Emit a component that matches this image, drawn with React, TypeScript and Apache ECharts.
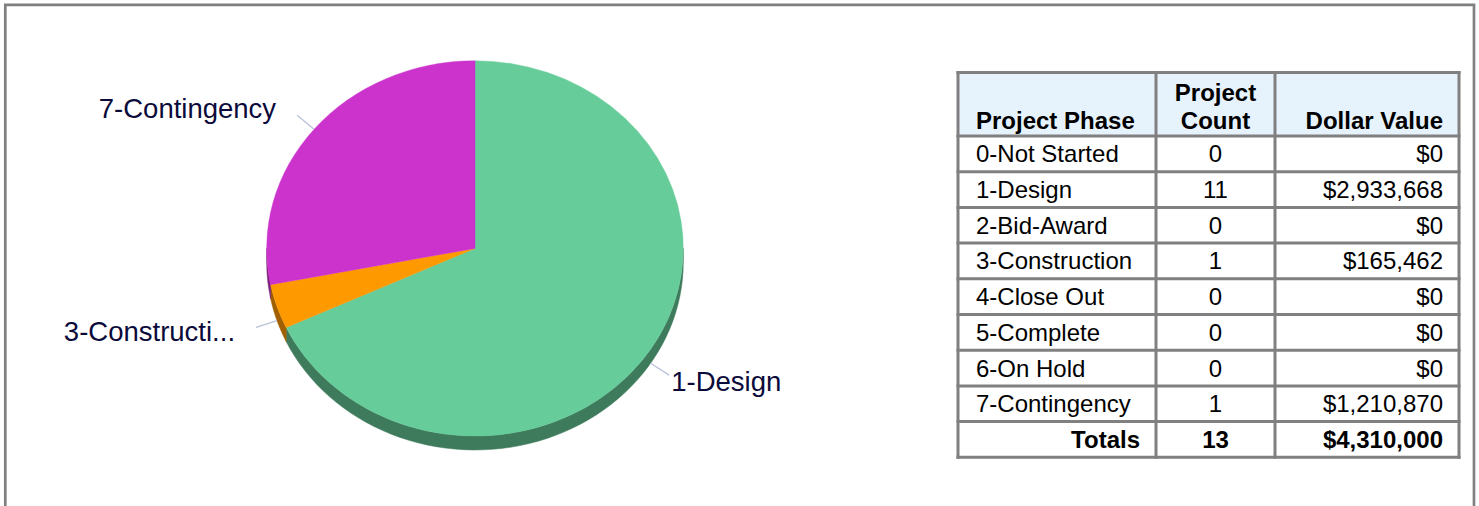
import React, { useEffect, useRef } from "react";
import * as echarts from "echarts";

// ---- data ----
const phases = [
  "0-Not Started",
  "1-Design",
  "2-Bid-Award",
  "3-Construction",
  "4-Close Out",
  "5-Complete",
  "6-On Hold",
  "7-Contingency",
];
const projectCounts = [0, 11, 0, 1, 0, 0, 0, 1];
const dollarValues = [0, 2933668, 0, 165462, 0, 0, 0, 1210870];
const headerPhase = "Project Phase";
const headerCount = ["Project", "Count"];
const headerValue = "Dollar Value";
const totalsLabel = "Totals";

// ---- styles ----
const topColors: Record<string, string> = {
  "1-Design": "#66CC99",
  "3-Construction": "#FF9900",
  "7-Contingency": "#CC33CC",
};
const sideColors: Record<string, string> = {
  "1-Design": "#3E7B5C",
  "3-Construction": "#A05F00",
  "7-Contingency": "#7B1F7B",
};
const FONT = '"Liberation Sans", Arial, Helvetica, sans-serif';
const LABEL_COLOR = "#0B0B3B";
const GRID = "#808080";

const CX = 475;
const CY = 248.4;
const RX = 208.3;
const RY = 187.6;
const DEPTH = 14;

const fmt = (v: number) => "$" + v.toLocaleString("en-US");
const shortName = (n: string) => (n.length > 13 ? n.slice(0, 12) + "..." : n);

export default function App() {
  const ref = useRef<HTMLDivElement>(null);

  useEffect(() => {
    if (!ref.current) return;
    const chart = echarts.init(ref.current, undefined, { renderer: "svg" });

    const slices = phases
      .map((p, i) => ({ name: p, value: dollarValues[i] }))
      .filter((s) => s.value > 0);
    const total = slices.reduce((a, s) => a + s.value, 0);
    const angles: [number, number][] = [];
    let acc = -Math.PI / 2;
    slices.forEach((s) => {
      const a1 = acc + (s.value / total) * Math.PI * 2;
      angles.push([acc, a1]);
      acc = a1;
    });

    const wallItem = (params: any, api: any) => {
      const i = params.dataIndex;
      const [a0, a1] = angles[i];
      const lo = Math.max(a0, 0);
      const hi = Math.min(a1, Math.PI);
      if (hi <= lo) return { type: "group", children: [] };
      const n = 60;
      const pts: number[][] = [];
      for (let k = 0; k <= n; k++) {
        const t = lo + ((hi - lo) * k) / n;
        pts.push([CX + RX * Math.cos(t), CY + RY * Math.sin(t)]);
      }
      for (let k = n; k >= 0; k--) {
        const t = lo + ((hi - lo) * k) / n;
        pts.push([CX + RX * Math.cos(t), CY + RY * Math.sin(t) + DEPTH]);
      }
      const c = sideColors[slices[i].name];
      return {
        type: "polygon",
        shape: { points: pts },
        style: { fill: c, stroke: c, lineWidth: 0.5 },
      };
    };

    const topItem = (params: any, api: any) => {
      const i = params.dataIndex;
      const [a0, a1] = angles[i];
      const c = topColors[slices[i].name];
      const mid = (a0 + a1) / 2;
      const cs = Math.cos(mid);
      const sn = Math.sin(mid);
      const ax = CX + RX * cs;
      const ay = CY + RY * sn + (sn > 0 ? DEPTH : 0);
      const L = 22;
      const ex = ax + L * cs;
      const ey = ay + L * sn;
      const right = cs > 0;
      return {
        type: "group",
        children: [
          {
            type: "group",
            x: CX,
            y: CY,
            scaleY: RY / RX,
            children: [
              {
                type: "sector",
                shape: {
                  cx: 0,
                  cy: 0,
                  r0: 0,
                  r: RX,
                  startAngle: a0,
                  endAngle: a1,
                  clockwise: true,
                },
                style: { fill: c, stroke: c, lineWidth: 0.4 },
              },
            ],
          },
          {
            type: "line",
            shape: { x1: ax, y1: ay, x2: ex, y2: ey },
            style: { stroke: "#B8C2D8", lineWidth: 1.3 },
          },
          {
            type: "text",
            x: right ? ex + 2 : ex - 21,
            y: ey + 11 * sn + 0.5,
            style: {
              text: shortName(slices[i].name),
              fill: LABEL_COLOR,
              font: `27.5px ${FONT}`,
              align: right ? "left" : "right",
              verticalAlign: "middle",
            },
          },
        ],
      };
    };

    // ---- table via graphic ----
    const L0 = 958,
      C1 = 1156,
      C2 = 1275,
      R0 = 1459;
    const T0 = 72.5,
      H1 = 136,
      RH = 35.7;
    const nRows = phases.length + 1;
    const B0 = H1 + RH * nRows;
    const g: any[] = [];
    g.push({
      type: "rect",
      shape: { x: L0, y: T0, width: R0 - L0, height: H1 - T0 },
      style: { fill: "#E6F2FC" },
      z: 1,
    });
    const hl = (y: number) =>
      g.push({
        type: "line",
        shape: { x1: L0 - 1.5, y1: y, x2: R0 + 1.5, y2: y },
        style: { stroke: GRID, lineWidth: 3 },
        z: 3,
      });
    const vl = (x: number) =>
      g.push({
        type: "line",
        shape: { x1: x, y1: T0 - 1.5, x2: x, y2: B0 + 1.5 },
        style: { stroke: GRID, lineWidth: 3 },
        z: 3,
      });
    hl(T0);
    hl(H1);
    for (let k = 1; k <= nRows; k++) hl(H1 + RH * k);
    [L0, C1, C2, R0].forEach(vl);

    const txt = (
      text: string,
      x: number,
      y: number,
      align: string,
      bold = false
    ) =>
      g.push({
        type: "text",
        x,
        y,
        z: 4,
        style: {
          text,
          fill: "#000000",
          font: `${bold ? "bold " : ""}24px ${FONT}`,
          align,
          verticalAlign: "middle",
        },
      });
    const mid2 = (C1 + C2) / 2;
    txt(headerPhase, L0 + 18, 120, "left", true);
    txt(headerCount[0], mid2, 92, "center", true);
    txt(headerCount[1], mid2, 120, "center", true);
    txt(headerValue, R0 - 16, 120, "right", true);
    phases.forEach((p, i) => {
      const y = H1 + RH * (i + 0.5);
      txt(p, L0 + 18, y, "left");
      txt(String(projectCounts[i]), mid2, y, "center");
      txt(fmt(dollarValues[i]), R0 - 16, y, "right");
    });
    const ty = H1 + RH * (phases.length + 0.5);
    txt(totalsLabel, C1 - 16, ty, "right", true);
    txt(
      String(projectCounts.reduce((a, b) => a + b, 0)),
      mid2,
      ty,
      "center",
      true
    );
    txt(fmt(dollarValues.reduce((a, b) => a + b, 0)), R0 - 16, ty, "right", true);

    // outer frame
    g.push({
      type: "polyline",
      shape: {
        points: [
          [5.3, 520],
          [5.3, 4.8],
          [1474, 4.8],
          [1474, 520],
        ],
      },
      style: { stroke: GRID, lineWidth: 2.7, fill: "none" },
      z: 5,
    });

    chart.setOption({
      animation: false,
      backgroundColor: "#FFFFFF",
      graphic: { elements: g },
      series: [
        {
          type: "custom",
          coordinateSystem: "none",
          renderItem: wallItem,
          data: slices.map((s) => [s.value]),
          z: 1,
          silent: true,
        },
        {
          type: "custom",
          coordinateSystem: "none",
          renderItem: topItem,
          data: slices.map((s) => [s.value]),
          z: 2,
          silent: true,
        },
      ],
    });

    return () => chart.dispose();
  }, []);

  return (
    <div
      ref={ref}
      style={{ position: "absolute", left: 0, top: 0, width: 1479, height: 506 }}
    />
  );
}
